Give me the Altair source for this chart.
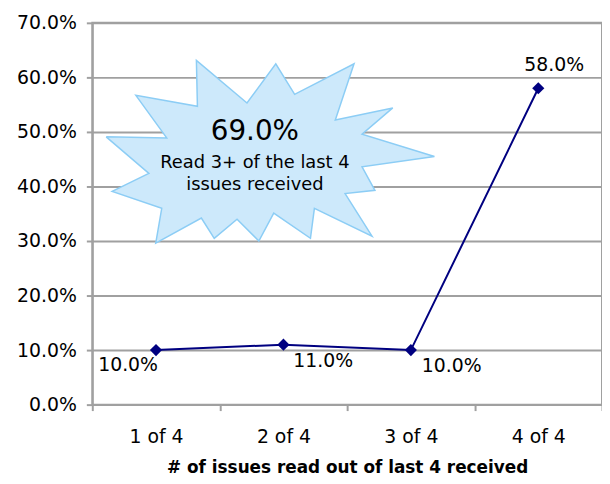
import altair as alt
import pandas as pd

# ---- data -------------------------------------------------------------
categories = ["1 of 4", "2 of 4", "3 of 4", "4 of 4"]
shares = [0.10, 0.11, 0.10, 0.58]
y_ticks = [0.0, 0.1, 0.2, 0.3, 0.4, 0.5, 0.6, 0.7]

callout_value = "69.0%"
callout_text = ["Read 3+ of the last 4", "issues received"]

# starburst outline in data units (x: category slots 0..4, y: share)
star_x = [0.109, 0.584, 0.342, 0.825, 0.817, 1.214, 1.440, 1.588, 2.054, 1.907,
          2.358, 2.117, 2.685, 2.117, 2.218, 1.984, 2.195, 1.743, 1.712, 1.424,
          1.307, 1.136, 0.957, 0.856, 0.498, 0.545, 0.156, 0.444]
star_y = [0.491, 0.489, 0.567, 0.547, 0.631, 0.553, 0.625, 0.569, 0.625, 0.522,
          0.544, 0.496, 0.455, 0.436, 0.393, 0.387, 0.309, 0.360, 0.305, 0.351,
          0.300, 0.340, 0.305, 0.342, 0.296, 0.360, 0.391, 0.424]

# callout anchor in data units
callout_x = 1.276
callout_y = [0.50, 0.4436]

# ---- tables -----------------------------------------------------------
df = pd.DataFrame({
    "cat": categories,
    "share": shares,
    "label": [f"{v:.1%}" for v in shares],
    "i": list(range(len(categories))),
})
star = pd.DataFrame({
    "sx": star_x + [star_x[0]],
    "sy": star_y + [star_y[0]],
    "k": list(range(len(star_x) + 1)),
})
callout = pd.DataFrame({
    "cx": [callout_x, callout_x],
    "cy": callout_y,
    "t": [callout_value, "\n".join(callout_text)],
    "j": [0, 1],
})

FONT = "DejaVu Sans"
NAVY = "#000080"
GRID = "#a0a0a0"

y_axis = alt.Axis(
    values=y_ticks, format=".1%", title=None,
    labelFont=FONT, labelFontSize=19, labelColor="black",
    labelPadding=10, tickSize=6, grid=True,
)
y_scale = alt.Scale(domain=[0, 0.7], nice=False, zero=True)

x_enc = alt.X(
    "cat:N", sort=categories,
    scale=alt.Scale(paddingInner=0, paddingOuter=0),
    axis=alt.Axis(
        title="# of issues read out of last 4 received",
        labelAngle=0, tickBand="extent", grid=False, orient="bottom",
        labelFont=FONT, labelFontSize=19, labelColor="black",
        labelPadding=17, tickSize=6,
        titleFont=FONT, titleFontSize=17, titleFontWeight="bold",
        titleColor="black", titlePadding=13,
    ),
)
y_enc = alt.Y("share:Q", scale=y_scale, axis=y_axis)

q_scale = alt.Scale(domain=[0, 4], nice=False, zero=False)

star_layer = alt.Chart(star).mark_line(
    fill="#cde9fb", stroke="#8ccdf5", strokeWidth=1.5, interpolate="linear",
).encode(
    x=alt.X("sx:Q", scale=q_scale, axis=None),
    y=alt.Y("sy:Q", scale=y_scale, axis=y_axis),
    order=alt.Order("k:Q"),
)

big_text = alt.Chart(callout).transform_filter(alt.datum.j == 0).mark_text(
    font=FONT, fontSize=28, color="black", align="center", baseline="middle",
).encode(
    x=alt.X("cx:Q", scale=q_scale, axis=None),
    y=alt.Y("cy:Q", scale=y_scale, axis=y_axis),
    text="t:N",
)
small_text = alt.Chart(callout).transform_filter(alt.datum.j == 1).mark_text(
    font=FONT, fontSize=18, color="black", align="center", baseline="middle",
    lineBreak="\n", lineHeight=23,
).encode(
    x=alt.X("cx:Q", scale=q_scale, axis=None),
    y=alt.Y("cy:Q", scale=y_scale, axis=y_axis),
    text="t:N",
)

line = alt.Chart(df).mark_line(color=NAVY, strokeWidth=2).encode(x=x_enc, y=y_enc)
pts = alt.Chart(df).mark_point(
    shape="diamond", filled=True, size=150, color=NAVY, opacity=1
).encode(x=x_enc, y=y_enc)

label_style = [("right", 2, 15), ("left", 10, 17), ("left", 11, 16), ("center", 16, -23)]
label_layers = []
for i, (al, dx, dy) in enumerate(label_style):
    label_layers.append(
        alt.Chart(df).transform_filter(alt.datum.i == i).mark_text(
            font=FONT, fontSize=19, color="black", align=al, baseline="middle",
            dx=dx, dy=dy,
        ).encode(x=x_enc, y=y_enc, text="label:N")
    )

main_group = alt.layer(line, pts, *label_layers)
star_group = alt.layer(star_layer, big_text, small_text)

chart = alt.layer(
    main_group, star_group
).resolve_scale(x="independent").properties(
    width=514, height=385,
    padding={"left": 85, "top": 13, "right": 0, "bottom": 70},
    autosize=alt.AutoSizeParams(type="none"),
    background="white",
).configure_view(
    stroke=GRID, strokeWidth=2,
).configure_axis(
    domainColor=GRID, domainWidth=2, gridColor=GRID, gridWidth=2,
    tickColor=GRID, tickWidth=2,
)

chart.save("out.html", embed_options={"renderer": "svg", "actions": False})
